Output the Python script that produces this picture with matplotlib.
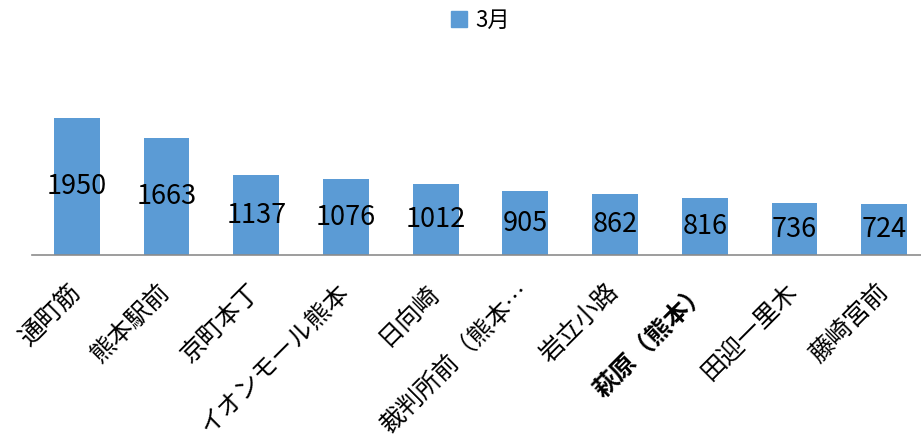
import numpy as np
import matplotlib.pyplot as plt
from matplotlib.patches import Patch

plt.rcParams['font.family'] = ['Noto Sans CJK JP', 'DejaVu Sans']

stops = ['通町筋', '熊本駅前', '京町本丁', 'イオンモール熊本', '日向崎',
         '裁判所前（熊本…', '岩立小路', '萩原（熊本）', '田迎一里木', '藤崎宮前']
march = [1950, 1663, 1137, 1076, 1012, 905, 862, 816, 736, 724]
series_name = '3月'
bar_color = '#5B9BD5'

fig = plt.figure(figsize=(9.21, 4.38), dpi=100)
ax = fig.add_axes([32 / 921, 183 / 438, 897 / 921, 180 / 438])

xs = np.arange(len(stops))
bars = ax.bar(xs, march, width=0.51, color=bar_color)

# value labels centred inside each bar
for x, v in zip(xs, march):
    ax.text(x, v / 2, str(v), ha='center', va='center', fontsize=19.5, color='black')

ax.set_xlim(-0.5, len(stops) - 0.5)
ax.set_ylim(0, 2560)
ax.set_yticks([])
for side in ['left', 'right', 'top']:
    ax.spines[side].set_visible(False)
ax.spines['bottom'].set_color('#8c8c8c')
ax.spines['bottom'].set_linewidth(1.2)

ax.set_xticks(xs)
ax.set_xticklabels(stops, rotation=45, ha='right', va='center',
                   rotation_mode='anchor', fontsize=18)
ax.tick_params(axis='x', length=0, pad=24)
ax.get_xticklabels()[7].set_fontweight('bold')

fig.legend(handles=[Patch(color=bar_color, label=series_name)], loc='upper center',
           bbox_to_anchor=(0.522, 1.025), frameon=False, fontsize=16,
           handlelength=0.7, handleheight=0.7, handletextpad=0.4)

plt.savefig('out.png', dpi=100)
